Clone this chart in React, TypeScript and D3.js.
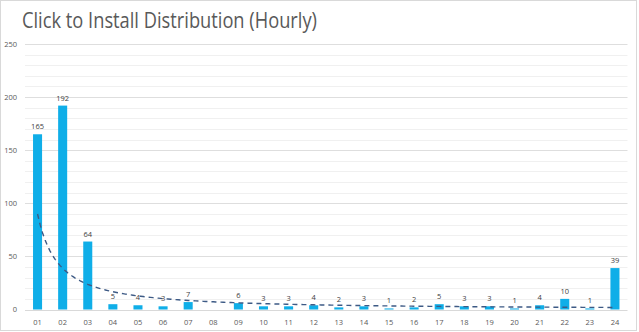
import React from "react";
import * as d3 from "d3";

const hours = ["01","02","03","04","05","06","07","08","09","10","11","12","13","14","15","16","17","18","19","20","21","22","23","24"];
const clicks: (number | null)[] = [165,192,64,5,4,3,7,null,6,3,3,4,2,3,1,2,5,3,3,1,4,10,1,39];
const yMajorTicks = [0,50,100,150,200,250];
const yMinorTicks = [10,20,30,40,60,70,80,90,110,120,130,140,160,170,180,190,210,220,230,240];
const title = "Click to Install Distribution (Hourly)";

const W = 639, H = 332;
const plotLeft = 25, plotRight = 627.5, plotTop = 44, plotBottom = 309.5;

// Power trendline (least squares on log-log), like Excel's power trendline
function powerFit(vals: (number | null)[]) {
  const pts = vals.map((v, i) => [i + 1, v] as [number, number | null]).filter(p => p[1] != null && (p[1] as number) > 0) as [number, number][];
  const lx = pts.map(p => Math.log(p[0]));
  const ly = pts.map(p => Math.log(p[1]));
  const mx = d3.mean(lx)!, my = d3.mean(ly)!;
  let sxy = 0, sxx = 0;
  lx.forEach((v, i) => { sxy += (v - mx) * (ly[i] - my); sxx += (v - mx) * (v - mx); });
  const b = sxy / sxx;
  const a = Math.exp(my - b * mx);
  return (x: number) => a * Math.pow(x, b);
}

export default function App() {
  const x = d3.scaleBand<string>().domain(hours).range([plotLeft, plotRight]).paddingInner(0.64).paddingOuter(0.32);
  const y = d3.scaleLinear().domain([0, 250]).range([plotBottom, plotTop]);
  const step = x.step();
  const cx = (i: number) => (x(hours[i]) as number) + x.bandwidth() / 2;
  const fit = powerFit(clicks);
  const trendPts = d3.range(1, 24.001, 0.1).map(t => [cx(0) + (t - 1) * step, y(fit(t))] as [number, number]);
  const line = d3.line();
  const font = "'Open Sans', 'DejaVu Sans', sans-serif";
  return (
    <svg width={W} height={H} style={{ position: "absolute", left: 0, top: 0 }} fontFamily={font}>
      <rect x={0} y={0} width={W} height={H} fill="#fff" />
      <rect x={0.5} y={0.5} width={636} height={330} fill="none" stroke="#d9d9d9" />
      <text x={22} y={28} fontSize={21} fill="#595959" textLength={295} lengthAdjust="spacingAndGlyphs">{title}</text>
      {yMinorTicks.map(t => (
        <line key={"m" + t} x1={plotLeft} x2={plotRight} y1={Math.round(y(t)) + 0.5} y2={Math.round(y(t)) + 0.5} stroke="#f0f0f0" />
      ))}
      {yMajorTicks.map(t => (
        <g key={"M" + t}>
          <line x1={plotLeft} x2={plotRight} y1={Math.round(y(t)) + 0.5} y2={Math.round(y(t)) + 0.5} stroke={t === 0 ? "#d9d9d9" : "#dedede"} />
          <text x={17} y={y(t) + 2.7} fontSize={7.5} fill="#595959" textAnchor="end">{t}</text>
        </g>
      ))}
      {clicks.map((v, i) => v == null ? null : (
        <rect key={"b" + i} x={x(hours[i])} y={y(v)} width={x.bandwidth()} height={plotBottom - y(v)} fill="#0FAEE8" />
      ))}
      <path d={line(trendPts) || ""} fill="none" stroke="#3D5A85" strokeWidth={1.4} strokeDasharray="5,4" />
      {clicks.map((v, i) => v == null ? null : (
        <text key={"l" + i} x={cx(i)} y={y(v) - 5} fontSize={7.5} fill="#404040" textAnchor="middle">{v}</text>
      ))}
      {hours.map((h, i) => (
        <text key={"x" + i} x={cx(i)} y={324.5} fontSize={7.5} fill="#595959" textAnchor="middle">{h}</text>
      ))}
    </svg>
  );
}
